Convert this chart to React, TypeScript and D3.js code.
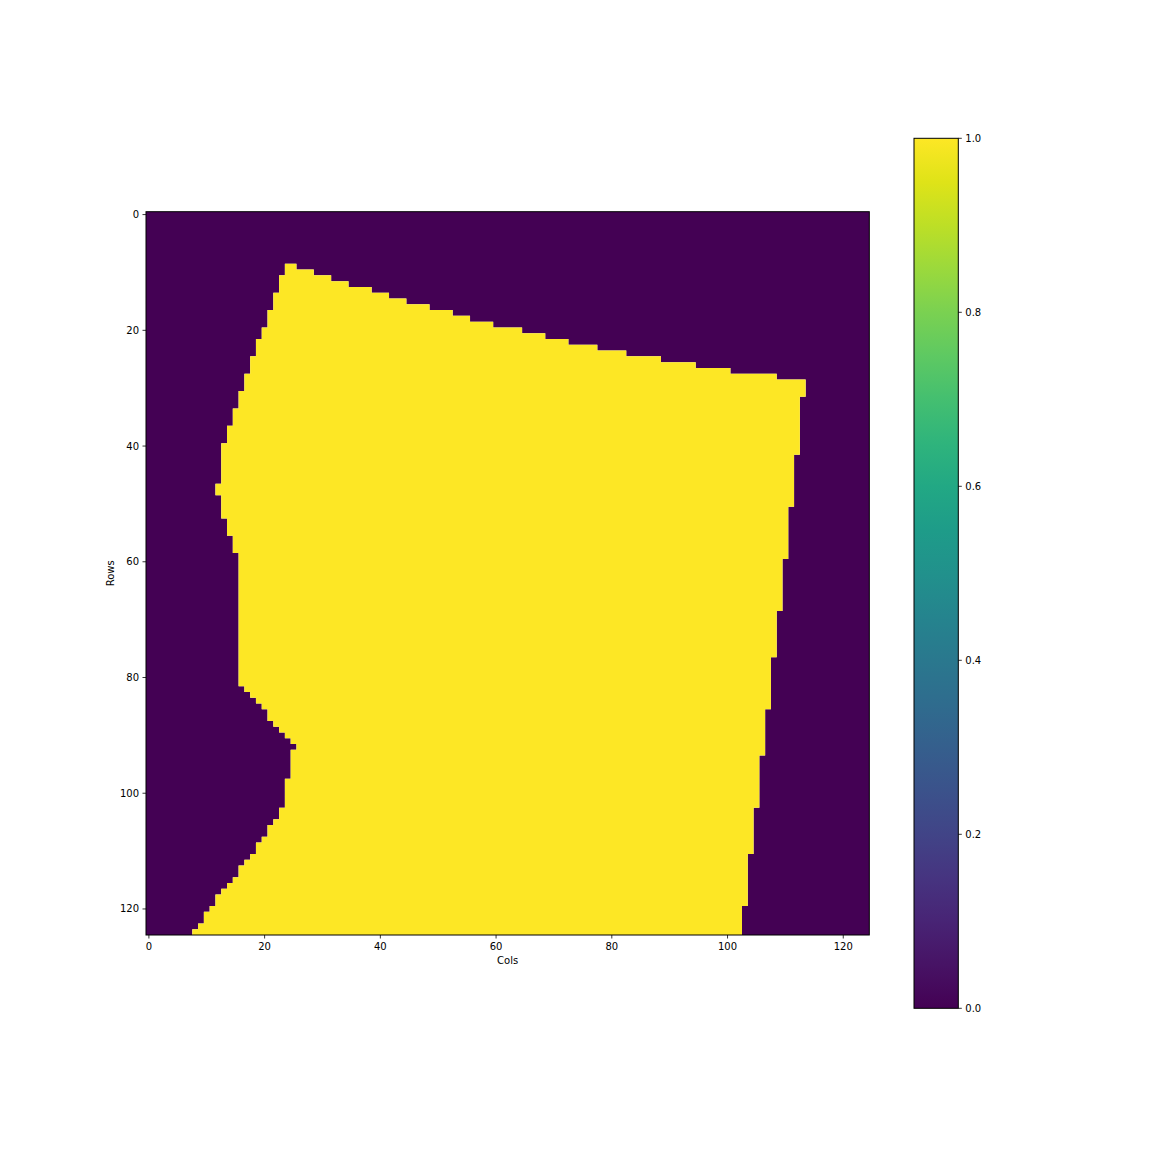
import React from "react";
import * as d3 from "d3";

// ---- Data ----
const N = 125; // 125 x 125 binary mask
const firstRow = 9; // first row that contains value 1
// run-length encoded first column (inclusive) of value 1, per row starting at firstRow: [col, rowCount]
const leftRuns: [number, number][] = [
  [24, 2], [23, 3], [22, 3], [21, 3], [20, 2], [19, 3], [18, 3], [17, 3], [16, 3], [15, 3],
  [14, 3], [13, 7], [12, 2], [13, 4], [14, 3], [15, 3], [16, 23], [17, 1], [18, 1], [19, 1],
  [20, 1], [21, 2], [22, 1], [23, 1], [24, 1], [25, 1], [26, 1], [25, 5], [24, 5], [23, 2],
  [22, 1], [21, 2], [20, 1], [19, 2], [18, 1], [17, 1], [16, 2], [15, 1], [14, 1], [13, 1],
  [12, 2], [11, 1], [10, 2], [9, 1], [8, 1],
];
// run-length encoded end column (exclusive) of value 1, per row starting at firstRow: [col, rowCount]
const rightRuns: [number, number][] = [
  [26, 1], [29, 1], [32, 1], [35, 1], [39, 1], [42, 1], [45, 1], [49, 1], [53, 1], [56, 1],
  [60, 1], [65, 1], [69, 1], [73, 1], [78, 1], [83, 1], [89, 1], [95, 1], [101, 1], [109, 1],
  [114, 3], [113, 10], [112, 9], [111, 9], [110, 9], [109, 8], [108, 9], [107, 8], [106, 9],
  [105, 8], [104, 9], [103, 5],
];
const axisTicks = [0, 20, 40, 60, 80, 100, 120];
const colorbarTicks = [0, 0.2, 0.4, 0.6, 0.8, 1.0];
const xLabel = "Cols";
const yLabel = "Rows";

function expand(runs: [number, number][]): number[] {
  const out: number[] = [];
  runs.forEach(([v, n]) => {
    for (let i = 0; i < n; i++) out.push(v);
  });
  return out;
}

const leftCols = expand(leftRuns);
const rightCols = expand(rightRuns);

const matrix: number[][] = d3.range(N).map((r) => {
  const row = new Array(N).fill(0);
  const i = r - firstRow;
  if (i >= 0 && i < leftCols.length) {
    for (let c = leftCols[i]; c < rightCols[i]; c++) row[c] = 1;
  }
  return row;
});

// ---- Layout ----
const W = 1166;
const H = 1152;
const axL = 146;
const axT = 211.7;
const axS = 723.3;
const cbL = 914;
const cbR = 958.3;
const cbT = 138.3;
const cbB = 1008.3;
const FONT = "DejaVu Sans, sans-serif";

export default function App() {
  const x = d3.scaleLinear().domain([-0.5, N - 0.5]).range([axL, axL + axS]);
  const y = d3.scaleLinear().domain([-0.5, N - 0.5]).range([axT, axT + axS]);
  const color = d3.scaleSequential(d3.interpolateViridis).domain([0, 1]);
  const cbY = d3.scaleLinear().domain([0, 1]).range([cbB, cbT]);

  // Build one path per value from horizontal runs
  const paths: { v: number; d: string }[] = [0, 1].map((v) => {
    const p = d3.path();
    matrix.forEach((row, r) => {
      let c = 0;
      while (c < N) {
        if (row[c] === v) {
          let e = c;
          while (e < N && row[e] === v) e++;
          const x0 = x(c - 0.5);
          const x1 = x(e - 0.5);
          const y0 = y(r - 0.5);
          const y1 = y(r + 0.5);
          p.rect(x0, y0, x1 - x0, y1 - y0);
          c = e;
        } else c++;
      }
    });
    return { v, d: p.toString() };
  });

  const gradStops = d3.range(0, 1.0001, 0.05);

  return (
    <svg
      width={W}
      height={H}
      style={{ position: "absolute", left: 0, top: 0, display: "block", background: "#fff" }}
      fontFamily={FONT}
    >
      <defs>
        <linearGradient id="viridisGrad" x1="0" y1="1" x2="0" y2="0">
          {gradStops.map((t) => (
            <stop key={t} offset={t} stopColor={color(t)} />
          ))}
        </linearGradient>
      </defs>
      <rect x={0} y={0} width={W} height={H} fill="#fff" />

      {/* image */}
      {paths.map((p) => (
        <path key={p.v} d={p.d} fill={color(p.v)} stroke="none" />
      ))}
      <rect x={axL} y={axT} width={axS} height={axS} fill="none" stroke="#000" strokeWidth={1} />

      {/* x axis */}
      {axisTicks.map((t) => (
        <g key={"x" + t} transform={`translate(${x(t)},${axT + axS})`}>
          <line y2={3.5} stroke="#000" strokeWidth={0.8} />
          <text y={7} dy="0.76em" textAnchor="middle" fontSize={10} fill="#000">
            {t}
          </text>
        </g>
      ))}
      {/* y axis */}
      {axisTicks.map((t) => (
        <g key={"y" + t} transform={`translate(${axL},${y(t)})`}>
          <line x2={-3.5} stroke="#000" strokeWidth={0.8} />
          <text x={-7} dy="0.35em" textAnchor="end" fontSize={10} fill="#000">
            {t}
          </text>
        </g>
      ))}
      <text x={axL + axS / 2} y={964} textAnchor="middle" fontSize={10} fill="#000">
        {xLabel}
      </text>
      <text
        transform={`translate(114,${axT + axS / 2}) rotate(-90)`}
        textAnchor="middle"
        fontSize={10}
        fill="#000"
      >
        {yLabel}
      </text>

      {/* colorbar */}
      <rect x={cbL} y={cbT} width={cbR - cbL} height={cbB - cbT} fill="url(#viridisGrad)" />
      <rect x={cbL} y={cbT} width={cbR - cbL} height={cbB - cbT} fill="none" stroke="#000" strokeWidth={1} />
      {colorbarTicks.map((t) => (
        <g key={"c" + t} transform={`translate(${cbR},${cbY(t)})`}>
          <line x2={3.5} stroke="#000" strokeWidth={0.8} />
          <text x={7} dy="0.35em" textAnchor="start" fontSize={10} fill="#000">
            {t.toFixed(1)}
          </text>
        </g>
      ))}
    </svg>
  );
}
